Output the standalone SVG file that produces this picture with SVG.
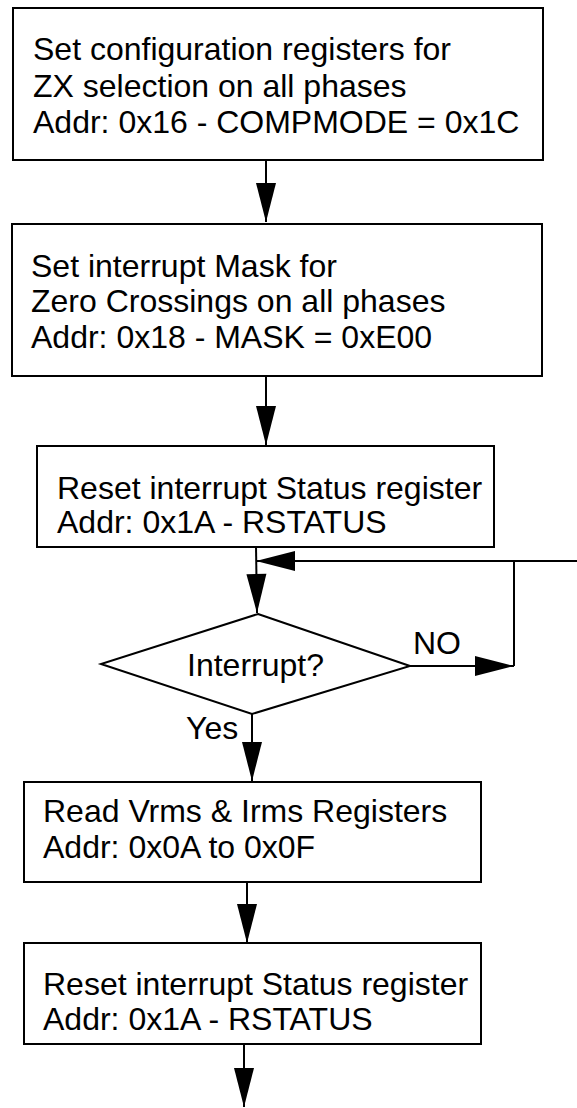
<svg xmlns="http://www.w3.org/2000/svg" width="577" height="1108" viewBox="0 0 577 1108">
<style>
.box{fill:#fff;stroke:#000;stroke-width:2}
.t{font-family:"Liberation Sans",Arial,sans-serif;font-size:32px;fill:#000}
.c{fill:none;stroke:#000;stroke-width:2}
.a{fill:none;stroke:#000;stroke-width:2;marker-end:url(#ah)}
</style>
<defs>
<marker id="ah" markerUnits="userSpaceOnUse" markerWidth="40" markerHeight="20" refX="39" refY="10" orient="auto" overflow="visible">
<path d="M0,0 L39,10 L0,20 Z" fill="#000"/>
</marker>
</defs>
<rect width="577" height="1108" fill="#fff"/>
<g id="connectors">
<line class="a" x1="266" y1="160" x2="266" y2="222"/>
<line class="a" x1="266" y1="376" x2="266" y2="445"/>
<line class="a" x1="256" y1="546" x2="257" y2="613"/>
<line class="a" x1="577" y1="561" x2="256" y2="561"/>
<line class="c" x1="514" y1="561" x2="514" y2="666"/>
<line class="a" x1="410" y1="666" x2="514" y2="666"/>
<line class="a" x1="252" y1="714" x2="252" y2="781"/>
<line class="a" x1="247" y1="882" x2="247" y2="943"/>
<line class="a" x1="244" y1="1044" x2="244" y2="1107"/>
<text class="t" x="413" y="654">NO</text>
<text class="t" x="186" y="739">Yes</text>
</g>
<g id="n1">
<rect class="box" x="13" y="8" width="530" height="152"/>
<text class="t" x="33" y="60">Set configuration registers for</text>
<text class="t" x="33" y="97">ZX selection on all phases</text>
<text class="t" x="33" y="133">Addr: 0x16 - COMPMODE = 0x1C</text>
</g>
<g id="n2">
<rect class="box" x="12" y="224" width="530" height="152"/>
<text class="t" x="31" y="277">Set interrupt Mask for</text>
<text class="t" x="31" y="312">Zero Crossings on all phases</text>
<text class="t" x="31" y="348">Addr: 0x18 - MASK = 0xE00</text>
</g>
<g id="n3">
<rect class="box" x="37" y="446" width="457" height="101"/>
<text class="t" x="57" y="499">Reset interrupt Status register</text>
<text class="t" x="57" y="533">Addr: 0x1A - RSTATUS</text>
</g>
<g id="n4">
<polygon class="box" points="258,614 410,666 252,714 101,664"/>
<text class="t" x="187" y="676">Interrupt?</text>
</g>
<g id="n5">
<rect class="box" x="24" y="782" width="457" height="100"/>
<text class="t" x="43" y="822">Read Vrms &amp; Irms Registers</text>
<text class="t" x="43" y="858">Addr: 0x0A to 0x0F</text>
</g>
<g id="n6">
<rect class="box" x="24" y="943" width="457" height="101"/>
<text class="t" x="43" y="995">Reset interrupt Status register</text>
<text class="t" x="43" y="1030">Addr: 0x1A - RSTATUS</text>
</g>
</svg>
